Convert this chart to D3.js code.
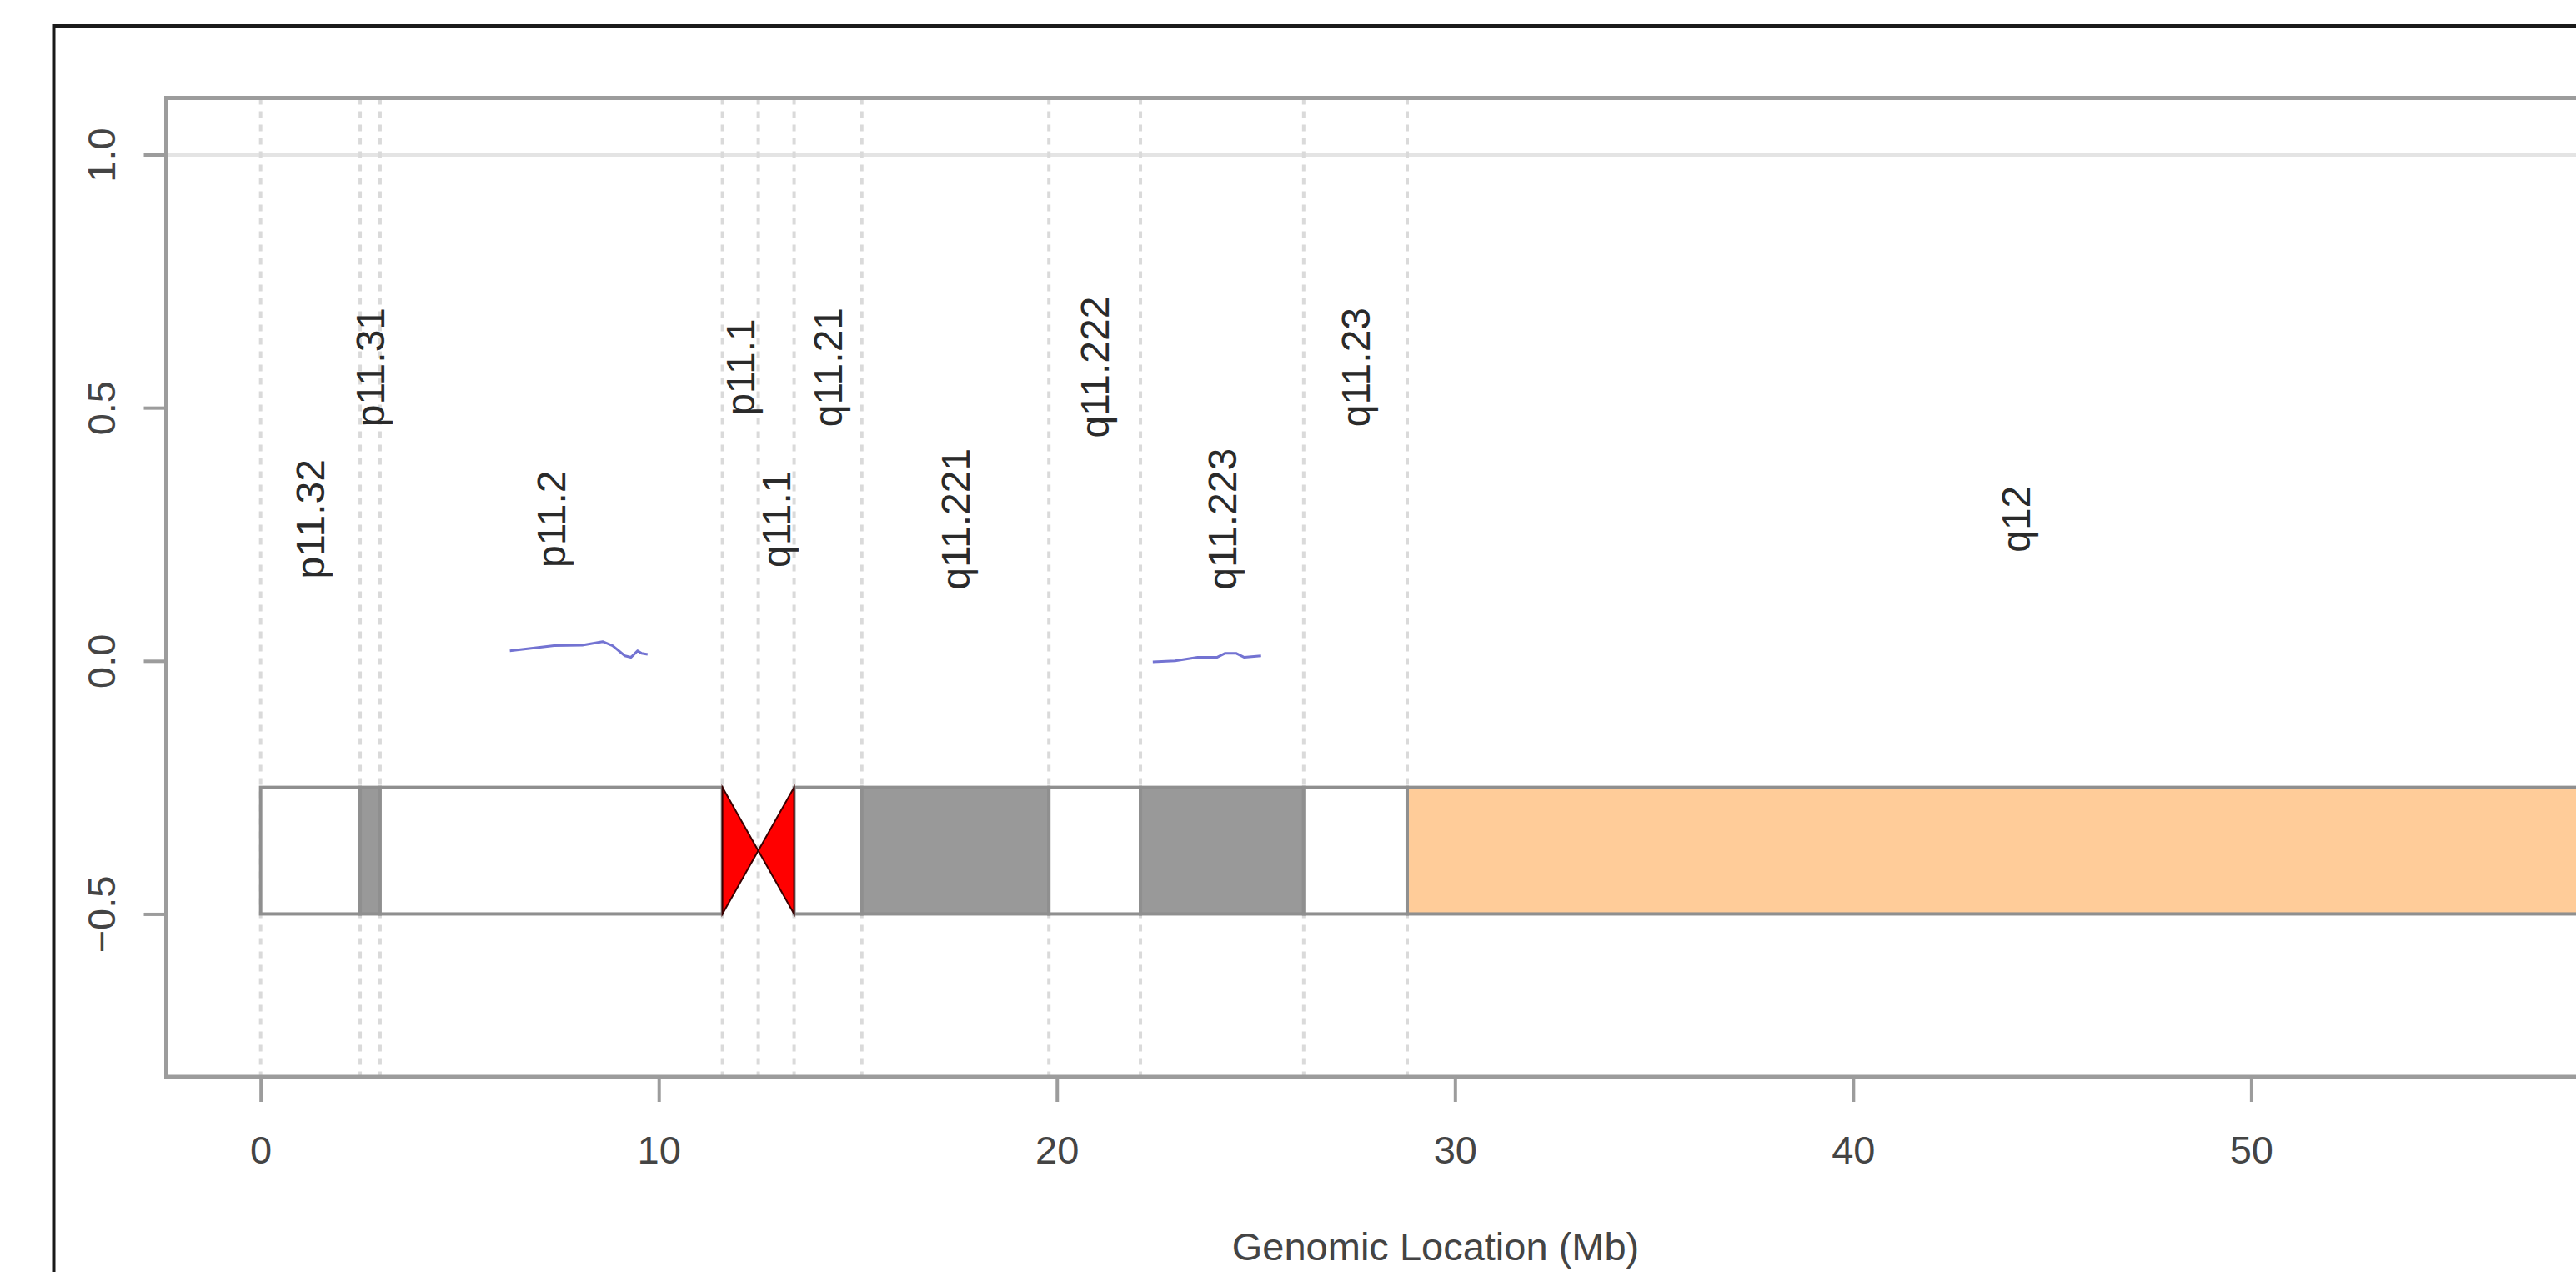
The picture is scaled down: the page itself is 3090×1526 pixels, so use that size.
<!DOCTYPE html>
<html>
<head>
<meta charset="utf-8">
<script src="https://cdn.jsdelivr.net/npm/d3@7"></script>
<style>
  html, body { margin: 0; padding: 0; background: #fff; }
  svg { display: block; }
  text { font-family: "Liberation Sans", Arial, sans-serif; }
</style>
</head>
<body>
<svg id="chart" width="3090" height="1526"></svg>
<script>
// ---- Data (chromosome Y cytobands, Mb) ----
const bandNames  = ["p11.32","p11.31","p11.2","p11.1","q11.1","q11.21","q11.221","q11.222","q11.223","q11.23","q12"];
const bandStarts = [0, 2.5, 3.0, 11.6, 12.5, 13.4, 15.1, 19.8, 22.1, 26.2, 28.8];
const bandEnds   = [2.5, 3.0, 11.6, 12.5, 13.4, 15.1, 19.8, 22.1, 26.2, 28.8, 59.37];
const bandStains = ["gneg","gpos50","gneg","acen","acen","gneg","gpos50","gneg","gpos50","gneg","gvar"];
const labelLevels = [0.28, 0.58, 0.28, 0.58, 0.28, 0.58, 0.28, 0.58, 0.28, 0.58, 0.28];

const ideoTop = -0.25, ideoBottom = -0.5;

const xTicks = [0, 10, 20, 30, 40, 50];
const yTicks = [-0.5, 0.0, 0.5, 1.0];
const yTickLabels = ["\u22120.5", "0.0", "0.5", "1.0"];
const refLineY = 1.0;

const seg1X = [6.26, 7.37, 8.08, 8.59, 8.84, 9.15, 9.30, 9.47, 9.57, 9.72];
const seg1Y = [0.020, 0.030, 0.031, 0.038, 0.030, 0.010, 0.007, 0.020, 0.015, 0.013];
const seg2X = [22.41, 22.97, 23.54, 24.02, 24.23, 24.50, 24.71, 25.13];
const seg2Y = [-0.002, 0.000, 0.007, 0.007, 0.015, 0.015, 0.007, 0.010];

const xTitle = "Genomic Location (Mb)";

// ---- Layout ----
const svg = d3.select("#chart");
const plotL = 199.5, plotT = 117.5, plotR = 3261, plotB = 1292;
const x = d3.scaleLinear().domain([-2.37, 61.74]).range([plotL, plotR]);
const y = d3.scaleLinear().domain([-0.822, 1.112]).range([plotB, plotT]);

const stainFill = { gneg: "#ffffff", gpos50: "#999999", gvar: "#ffcc99", acen: "#ff0000" };

// outer frame
svg.append("rect").attr("x", 64.5).attr("y", 31).attr("width", 3200).attr("height", 1600)
  .attr("fill", "none").attr("stroke", "#1a1a1a").attr("stroke-width", 4);

// reference line at 1.0
svg.append("line").attr("x1", plotL).attr("x2", plotR)
  .attr("y1", y(refLineY)).attr("y2", y(refLineY))
  .attr("stroke", "#e4e4e4").attr("stroke-width", 5);

// dotted band boundaries
svg.append("g").selectAll("line").data(bandStarts).join("line")
  .attr("x1", d => x(d)).attr("x2", d => x(d))
  .attr("y1", plotT).attr("y2", plotB)
  .attr("stroke", "#dadada").attr("stroke-width", 4).attr("stroke-dasharray", "8,8");

// ideogram bands
const bands = bandNames.map((n, i) => ({ name: n, s: bandStarts[i], e: bandEnds[i], stain: bandStains[i], lvl: labelLevels[i], i }));
const gB = svg.append("g");
bands.filter(b => b.stain !== "acen").forEach(b => {
  gB.append("rect")
    .attr("x", x(b.s)).attr("y", y(ideoTop))
    .attr("width", x(b.e) - x(b.s)).attr("height", y(ideoBottom) - y(ideoTop))
    .attr("fill", stainFill[b.stain]).attr("stroke", "#8f8f8f").attr("stroke-width", 4);
});
// centromere bowtie
const mid = (ideoTop + ideoBottom) / 2;
bands.filter(b => b.stain === "acen").forEach(b => {
  const isP = b.name.startsWith("p");
  const base = isP ? b.s : b.e, tip = isP ? b.e : b.s;
  const pts = [[x(base), y(ideoTop)], [x(base), y(ideoBottom)], [x(tip), y(mid)]];
  gB.append("path").attr("d", d3.line()(pts) + "Z")
    .attr("fill", stainFill.acen).attr("stroke", "#3a0000").attr("stroke-width", 2);
});

// band labels
svg.append("g").selectAll("text").data(bands).join("text")
  .attr("transform", d => `translate(${x((d.s + d.e) / 2) + 17},${y(d.lvl)}) rotate(-90)`)
  .attr("text-anchor", "middle").attr("font-size", 48).attr("fill", "#2a2a2a")
  .text(d => d.name);

// data segments
const line = d3.line().x(d => x(d[0])).y(d => y(d[1]));
[[seg1X, seg1Y], [seg2X, seg2Y]].forEach(([xs, ys]) => {
  svg.append("path").attr("d", line(xs.map((v, i) => [v, ys[i]])))
    .attr("fill", "none").attr("stroke", "#7373d2").attr("stroke-width", 3)
    .attr("stroke-linejoin", "round");
});

// plot box
svg.append("rect").attr("x", plotL).attr("y", plotT)
  .attr("width", plotR - plotL).attr("height", plotB - plotT)
  .attr("fill", "none").attr("stroke", "#9c9c9c").attr("stroke-width", 5);

// x axis
const xAxis = d3.axisBottom(x).tickValues(xTicks).tickSize(30).tickPadding(0).tickFormat(d3.format("d"));
const gx = svg.append("g").attr("transform", `translate(0,${plotB})`).call(xAxis);
gx.select(".domain").remove();
gx.selectAll(".tick line").attr("stroke", "#9c9c9c").attr("stroke-width", 4);
gx.selectAll(".tick text").attr("font-size", 47).attr("fill", "#444")
  .attr("font-family", "'Liberation Sans', Arial, sans-serif")
  .attr("dy", null).attr("y", 104);

// y axis
const yAxis = d3.axisLeft(y).tickValues(yTicks).tickSize(27).tickPadding(0)
  .tickFormat((d, i) => yTickLabels[i]);
const gy = svg.append("g").attr("transform", `translate(${plotL},0)`).call(yAxis);
gy.select(".domain").remove();
gy.selectAll(".tick line").attr("stroke", "#9c9c9c").attr("stroke-width", 4);
gy.selectAll(".tick text").attr("font-size", 47).attr("fill", "#444")
  .attr("font-family", "'Liberation Sans', Arial, sans-serif")
  .attr("x", null).attr("dy", null).attr("text-anchor", "middle")
  .attr("transform", `translate(${138 - plotL},0) rotate(-90)`);

// x title
svg.append("text").attr("x", 1722).attr("y", 1512)
  .attr("text-anchor", "middle").attr("font-size", 47).attr("fill", "#444")
  .text(xTitle);
</script>
</body>
</html>
